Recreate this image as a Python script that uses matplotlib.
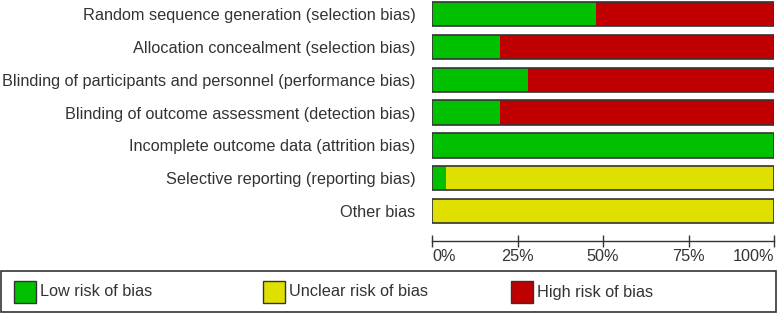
import numpy as np
import matplotlib
matplotlib.use("Agg")
from matplotlib import pyplot as plt
from matplotlib.patches import Rectangle

# Risk of bias summary, n = 25 studies (percent of studies)
domains = ["Random sequence generation (selection bias)",
           "Allocation concealment (selection bias)",
           "Blinding of participants and personnel (performance bias)",
           "Blinding of outcome assessment (detection bias)",
           "Incomplete outcome data (attrition bias)",
           "Selective reporting (reporting bias)",
           "Other bias"]
low = [48, 20, 28, 20, 100, 4, 0]
unclear = [0, 0, 0, 0, 0, 96, 100]
high = [52, 80, 72, 80, 0, 0, 0]

levels = ["Low risk of bias", "Unclear risk of bias", "High risk of bias"]
colors = ["#00C000", "#E0E000", "#C00000"]
ticks = [0, 25, 50, 75, 100]

plt.rcParams['font.family'] = ['Liberation Sans', 'DejaVu Sans']
txt = "#333333"
fs = 11.7

W, H = 777, 314
fig = plt.figure(figsize=(W/100, H/100), dpi=100)

ax = fig.add_axes([432/W, 1-241/H, (774-432)/W, 241/H])
y = np.arange(len(domains))
left = np.zeros(len(domains))
for vals, c in zip([low, unclear, high], colors):
    vals = np.array(vals, dtype=float)
    ax.barh(y, vals, left=left, height=0.74, color=c, edgecolor="none")
    left += vals
# outline each whole bar
ax.barh(y, left, height=0.74, color="none", edgecolor="#333333", linewidth=1.2)

ax.set_xlim(0, 100)
ax.set_ylim(6.91, -0.43)
ax.set_yticks(y)
ax.set_yticklabels(domains, fontsize=fs, color=txt)
ax.tick_params(axis="y", length=0, pad=12)
ax.set_xticks(ticks)
xl = ax.set_xticklabels([f"{t}%" for t in ticks], fontsize=fs, color=txt)
xl[0].set_ha("left")
xl[-1].set_ha("right")
ax.tick_params(axis="x", direction="inout", length=8, width=1, pad=2, color="#333333")
for s in ["top", "right", "left"]:
    ax.spines[s].set_visible(False)
ax.spines["bottom"].set_linewidth(1)
ax.spines["bottom"].set_color("#333333")

# legend box
lax = fig.add_axes([0, 0, 1, 1])
lax.set_xlim(0, W)
lax.set_ylim(H, 0)
lax.axis("off")
lax.add_patch(Rectangle((1, 271), 775, 41, fill=False, edgecolor="#333333", linewidth=1.2))
for x0, lab, c in zip([14, 263, 511], levels, colors):
    lax.add_patch(Rectangle((x0, 281), 22, 22, facecolor=c, edgecolor="#333333", linewidth=1))
    lax.text(x0 + 26, 292, lab, va="center", ha="left", fontsize=fs, color=txt)

fig.savefig("out.png", dpi=100)
